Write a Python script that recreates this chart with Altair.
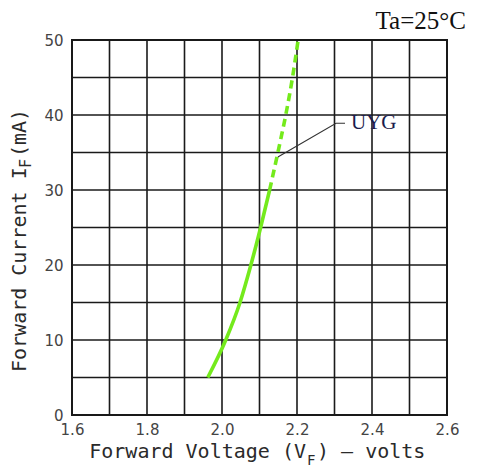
import altair as alt
import pandas as pd

# axes / grid
x_ticks = [1.6, 1.7, 1.8, 1.9, 2.0, 2.1, 2.2, 2.3, 2.4, 2.5, 2.6]
y_ticks = [0, 5, 10, 15, 20, 25, 30, 35, 40, 45, 50]
x_labels = [1.6, 1.8, 2.0, 2.2, 2.4, 2.6]
y_labels = [0, 10, 20, 30, 40, 50]

# UYG forward curve (solid part and dashed part)
solid_v = [1.962, 2.010, 2.048, 2.077, 2.103, 2.127]
solid_i = [5, 10, 15, 20, 25, 30]
dash_v = [2.127, 2.149, 2.170, 2.188, 2.203]
dash_i = [30, 35, 40, 45, 50]

# leader line to the series label
leader_v = [2.149, 2.304, 2.328]
leader_i = [34.4, 38.9, 38.9]
label_v = [2.344]
label_i = [38.9]
label_text = ["UYG"]

GREEN = "#74ea1c"
GRID = "#1a1a1a"
TITLE_FONT = "DejaVu Sans Mono"
TXT = "#2a2a2a"

xs = alt.Scale(domain=[1.6, 2.6], nice=False, zero=False)
ys = alt.Scale(domain=[0, 50], nice=False, zero=False)

xaxis = alt.Axis(values=x_labels, grid=False, ticks=False, domain=False, title=None,
                 labelFlush=False, labelOverlap=False, labelFont="DejaVu Sans",
                 labelFontSize=15, labelColor="#444", labelPadding=7, format=".1f")
yaxis = alt.Axis(values=y_labels, grid=False, ticks=False, domain=False, title=None,
                 labelFlush=False, labelOverlap=False, labelFont="DejaVu Sans",
                 labelFontSize=15, labelColor="#444", labelPadding=9, format="d")

vgrid = alt.Chart(pd.DataFrame({"v": x_ticks})).mark_rule(color=GRID, strokeWidth=1.6).encode(
    x=alt.X("v:Q", scale=xs, axis=xaxis))
hgrid = alt.Chart(pd.DataFrame({"i": y_ticks})).mark_rule(color=GRID, strokeWidth=1.6).encode(
    y=alt.Y("i:Q", scale=ys, axis=yaxis))

solid_df = pd.DataFrame({"v": solid_v, "i": solid_i})
dash_df = pd.DataFrame({"v": dash_v, "i": dash_i})
leader_df = pd.DataFrame({"v": leader_v, "i": leader_i, "o": [0, 1, 2]})
label_df = pd.DataFrame({"v": label_v, "i": label_i, "t": label_text})

solid = alt.Chart(solid_df).mark_line(color=GREEN, strokeWidth=3.6, interpolate="monotone").encode(
    x=alt.X("v:Q", scale=xs),
    y=alt.Y("i:Q", scale=ys),
)
dashed = alt.Chart(dash_df).mark_line(color=GREEN, strokeWidth=3.6, interpolate="monotone",
                                      strokeDash=[8, 5]).encode(
    x=alt.X("v:Q", scale=xs),
    y=alt.Y("i:Q", scale=ys),
)
leader = alt.Chart(leader_df).mark_line(color="#333333", strokeWidth=1.1).encode(
    x=alt.X("v:Q", scale=xs),
    y=alt.Y("i:Q", scale=ys),
    order="o:Q",
)
label = alt.Chart(label_df).mark_text(font="Liberation Serif", fontSize=21, color="#1c1c4e",
                                      align="left", baseline="middle").encode(
    x=alt.X("v:Q", scale=xs),
    y=alt.Y("i:Q", scale=ys),
    text="t:N",
)


def txt(s, x, y, **kw):
    return alt.Chart(pd.DataFrame({"t": [s]})).mark_text(**kw).encode(
        text="t:N", x=alt.value(x), y=alt.value(y))


ta = txt("Ta=25°C", 394, -19, font="Liberation Serif", fontSize=25, color="#111",
         align="right", baseline="middle")
xt1 = txt("Forward Voltage (V", 234, 418, font=TITLE_FONT, fontSize=20, color=TXT,
          align="right", baseline="alphabetic")
xt2 = txt("F", 235, 425, font=TITLE_FONT, fontSize=14, color=TXT,
          align="left", baseline="alphabetic")
xt3 = txt(") — volts", 245, 418, font=TITLE_FONT, fontSize=20, color=TXT,
          align="left", baseline="alphabetic")
yt1 = txt("Forward Current I", -46, 332, font=TITLE_FONT, fontSize=20, color=TXT,
          align="left", baseline="alphabetic", angle=270)
yt2 = txt("F", -41, 128, font=TITLE_FONT, fontSize=15, color=TXT,
          align="left", baseline="alphabetic", angle=270)
yt3 = txt("(mA)", -46, 117, font=TITLE_FONT, fontSize=20, color=TXT,
          align="left", baseline="alphabetic", angle=270)

chart = alt.layer(vgrid, hgrid, solid, dashed, leader, label, ta,
                  xt1, xt2, xt3, yt1, yt2, yt3).properties(
    width=375, height=375,
    autosize=alt.AutoSizeParams(type="none"),
    padding={"left": 64, "top": 32, "right": 25, "bottom": 52},
    background="white",
).configure_view(stroke=GRID, strokeWidth=2)

chart.save("out.html", embed_options={"renderer": "svg", "actions": False})
